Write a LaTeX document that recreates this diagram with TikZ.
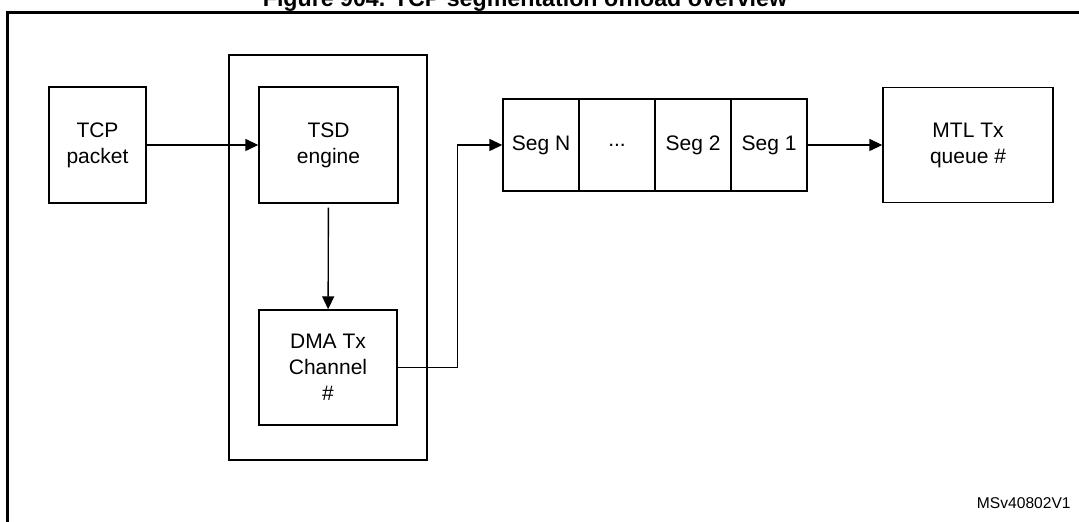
\documentclass[tikz,border=0pt]{standalone}
\usepackage{fontspec}
\setmainfont{Liberation Sans}
\usetikzlibrary{arrows.meta}

\begin{document}
\begin{tikzpicture}[x=0.5pt,y=-0.5pt,line width=0.7pt,
		>={Triangle[length=6.5pt,width=6pt]},
		box/.style={draw,align=center,inner sep=0pt,font=\fontsize{10.5}{13}\selectfont},
		seg/.style={box,minimum width=38pt,minimum height=46pt}]
	\useasboundingbox (0,0) rectangle (1079,522);
	\draw[line width=1.3pt] (7.5,540) |- (1100,12.5);
	\node[anchor=base,font=\bfseries\fontsize{11.6}{14}\selectfont] (title) at (525,6.5) {Figure 904. TCP segmentation offload overview};
	\node[draw,minimum width=99pt,minimum height=202.5pt] (sys) at (328,257.5) {};
	\node[box,minimum width=48.5pt,minimum height=58pt] (tcp) at (97.5,145) {TCP\\packet};
	\node[box,minimum width=69.5pt,minimum height=58pt] (tsd) at (328.5,145) {TSD\\engine};
	\node[box,minimum width=69pt,minimum height=57.5pt] (dma) at (328,367.5) {DMA Tx\\Channel\\\#};
	\node[seg] (segn) at (541,145) {Seg N};
	\node[seg] (segdots) at (617,145) {...};
	\node[seg] (seg2) at (693,145) {Seg 2};
	\node[seg] (seg1) at (769,145) {Seg 1};
	\node[box,minimum width=85pt,minimum height=57.5pt] (mtl) at (968,145) {MTL Tx\\queue \#};
	\node[anchor=base east,font=\fontsize{7.8}{9}\selectfont] (ref) at (1078,508) {MSv40802V1};
	\draw[->] (tcp) to (tsd);
	\draw[->,shorten <=2pt] (tsd) to (dma);
	\draw[->] (dma.east) -- ++(60,0) |- (segn.west);
	\draw[->] (seg1) to (mtl);
\end{tikzpicture}
\end{document}
